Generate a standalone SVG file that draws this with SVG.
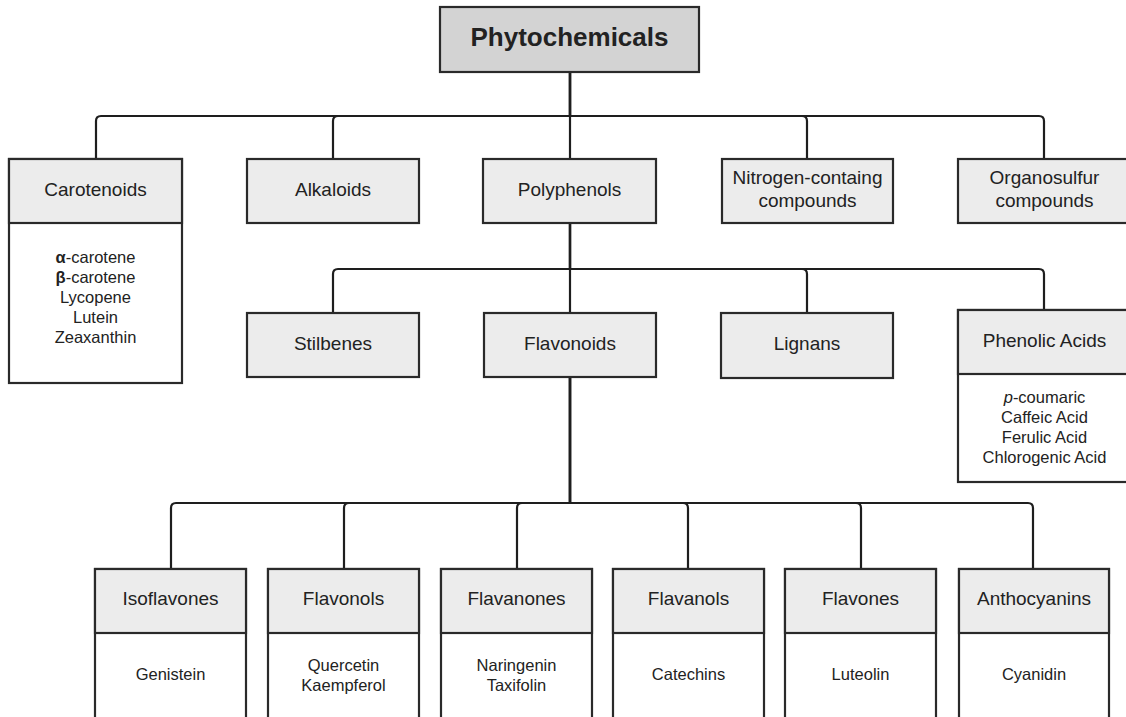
<svg xmlns="http://www.w3.org/2000/svg" width="1126" height="717" viewBox="0 0 1126 717">
<style>
.root{fill:#d3d3d3;stroke:#2a2a2a;stroke-width:2.2}
.hd{fill:#ececec;stroke:#2a2a2a;stroke-width:2.2}
.bd{fill:#ffffff;stroke:#2a2a2a;stroke-width:2.2}
.conn path{fill:none;stroke:#1e1e1e;stroke-width:2.2}
text{font-family:"Liberation Sans",Arial,sans-serif;fill:#222;text-anchor:middle}
.t1{font-size:26px;font-weight:bold}
.t2{font-size:19px}
.t3{font-size:16.5px}
</style>
<rect width="1126" height="717" fill="#ffffff"/>
<g class="conn" id="connectors">
<path d="M570 72 V159"/>
<path d="M570 72 V116 H101 Q96 116 96 121 V159"/>
<path d="M570 72 V116 H338 Q333 116 333 121 V159"/>
<path d="M570 72 V116 H802 Q807 116 807 121 V159"/>
<path d="M570 72 V116 H1039 Q1044 116 1044 121 V159"/>
<path d="M570 223 V313"/>
<path d="M570 223 V269 H338 Q333 269 333 274 V313"/>
<path d="M570 223 V269 H802 Q807 269 807 274 V313"/>
<path d="M570 223 V269 H1039 Q1044 269 1044 274 V310"/>
<path d="M570 377 V503 H176 Q171 503 171 508 V569"/>
<path d="M570 377 V503 H349 Q344 503 344 508 V569"/>
<path d="M570 377 V503 H522 Q517 503 517 508 V569"/>
<path d="M570 377 V503 H683 Q688 503 688 508 V569"/>
<path d="M570 377 V503 H856 Q861 503 861 508 V569"/>
<path d="M570 377 V503 H1028 Q1033 503 1033 508 V569"/>
</g>
<g id="phytochemicals">
<rect class="root" x="440" y="7" width="259" height="65"/>
<text class="t1" x="569.5" y="46">Phytochemicals</text>
</g>
<g id="carotenoids">
<rect class="bd" x="9" y="159" width="173" height="224"/>
<rect class="hd" x="9" y="159" width="173" height="64"/>
<text class="t2" x="95.5" y="196">Carotenoids</text>
<text class="t3" x="95.5" y="263"><tspan font-weight="bold">α</tspan>-carotene</text>
<text class="t3" x="95.5" y="283"><tspan font-weight="bold">β</tspan>-carotene</text>
<text class="t3" x="95.5" y="303">Lycopene</text>
<text class="t3" x="95.5" y="323">Lutein</text>
<text class="t3" x="95.5" y="343">Zeaxanthin</text>
</g>
<g id="alkaloids">
<rect class="hd" x="247" y="159" width="172" height="64"/>
<text class="t2" x="333" y="196">Alkaloids</text>
</g>
<g id="polyphenols">
<rect class="hd" x="483" y="159" width="173" height="64"/>
<text class="t2" x="569.5" y="196">Polyphenols</text>
</g>
<g id="nitrogen">
<rect class="hd" x="722" y="159" width="171" height="64"/>
<text class="t2" x="807.5" y="184">Nitrogen-containg</text>
<text class="t2" x="807.5" y="207">compounds</text>
</g>
<g id="organosulfur">
<rect class="hd" x="958" y="159" width="173" height="64"/>
<text class="t2" x="1044.5" y="184">Organosulfur</text>
<text class="t2" x="1044.5" y="207">compounds</text>
</g>
<g id="stilbenes">
<rect class="hd" x="247" y="313" width="172" height="64"/>
<text class="t2" x="333" y="350">Stilbenes</text>
</g>
<g id="flavonoids">
<rect class="hd" x="484" y="313" width="172" height="64"/>
<text class="t2" x="570" y="350">Flavonoids</text>
</g>
<g id="lignans">
<rect class="hd" x="721" y="313" width="172" height="65"/>
<text class="t2" x="807" y="350">Lignans</text>
</g>
<g id="phenolic-acids">
<rect class="bd" x="958" y="310" width="173" height="172"/>
<rect class="hd" x="958" y="310" width="173" height="64"/>
<text class="t2" x="1044.5" y="347">Phenolic Acids</text>
<text class="t3" x="1044.5" y="403"><tspan font-style="italic">p</tspan>-coumaric</text>
<text class="t3" x="1044.5" y="423">Caffeic Acid</text>
<text class="t3" x="1044.5" y="443">Ferulic Acid</text>
<text class="t3" x="1044.5" y="463">Chlorogenic Acid</text>
</g>
<g id="isoflavones">
<rect class="bd" x="95" y="569" width="151" height="170"/>
<rect class="hd" x="95" y="569" width="151" height="64"/>
<text class="t2" x="170.5" y="605">Isoflavones</text>
<text class="t3" x="170.5" y="680">Genistein</text>
</g>
<g id="flavonols">
<rect class="bd" x="268" y="569" width="151" height="170"/>
<rect class="hd" x="268" y="569" width="151" height="64"/>
<text class="t2" x="343.5" y="605">Flavonols</text>
<text class="t3" x="343.5" y="671">Quercetin</text>
<text class="t3" x="343.5" y="691">Kaempferol</text>
</g>
<g id="flavanones">
<rect class="bd" x="441" y="569" width="151" height="170"/>
<rect class="hd" x="441" y="569" width="151" height="64"/>
<text class="t2" x="516.5" y="605">Flavanones</text>
<text class="t3" x="516.5" y="671">Naringenin</text>
<text class="t3" x="516.5" y="691">Taxifolin</text>
</g>
<g id="flavanols">
<rect class="bd" x="613" y="569" width="151" height="170"/>
<rect class="hd" x="613" y="569" width="151" height="64"/>
<text class="t2" x="688.5" y="605">Flavanols</text>
<text class="t3" x="688.5" y="680">Catechins</text>
</g>
<g id="flavones">
<rect class="bd" x="785" y="569" width="151" height="170"/>
<rect class="hd" x="785" y="569" width="151" height="64"/>
<text class="t2" x="860.5" y="605">Flavones</text>
<text class="t3" x="860.5" y="680">Luteolin</text>
</g>
<g id="anthocyanins">
<rect class="bd" x="959" y="569" width="150" height="170"/>
<rect class="hd" x="959" y="569" width="150" height="64"/>
<text class="t2" x="1034" y="605">Anthocyanins</text>
<text class="t3" x="1034" y="680">Cyanidin</text>
</g>
</svg>
